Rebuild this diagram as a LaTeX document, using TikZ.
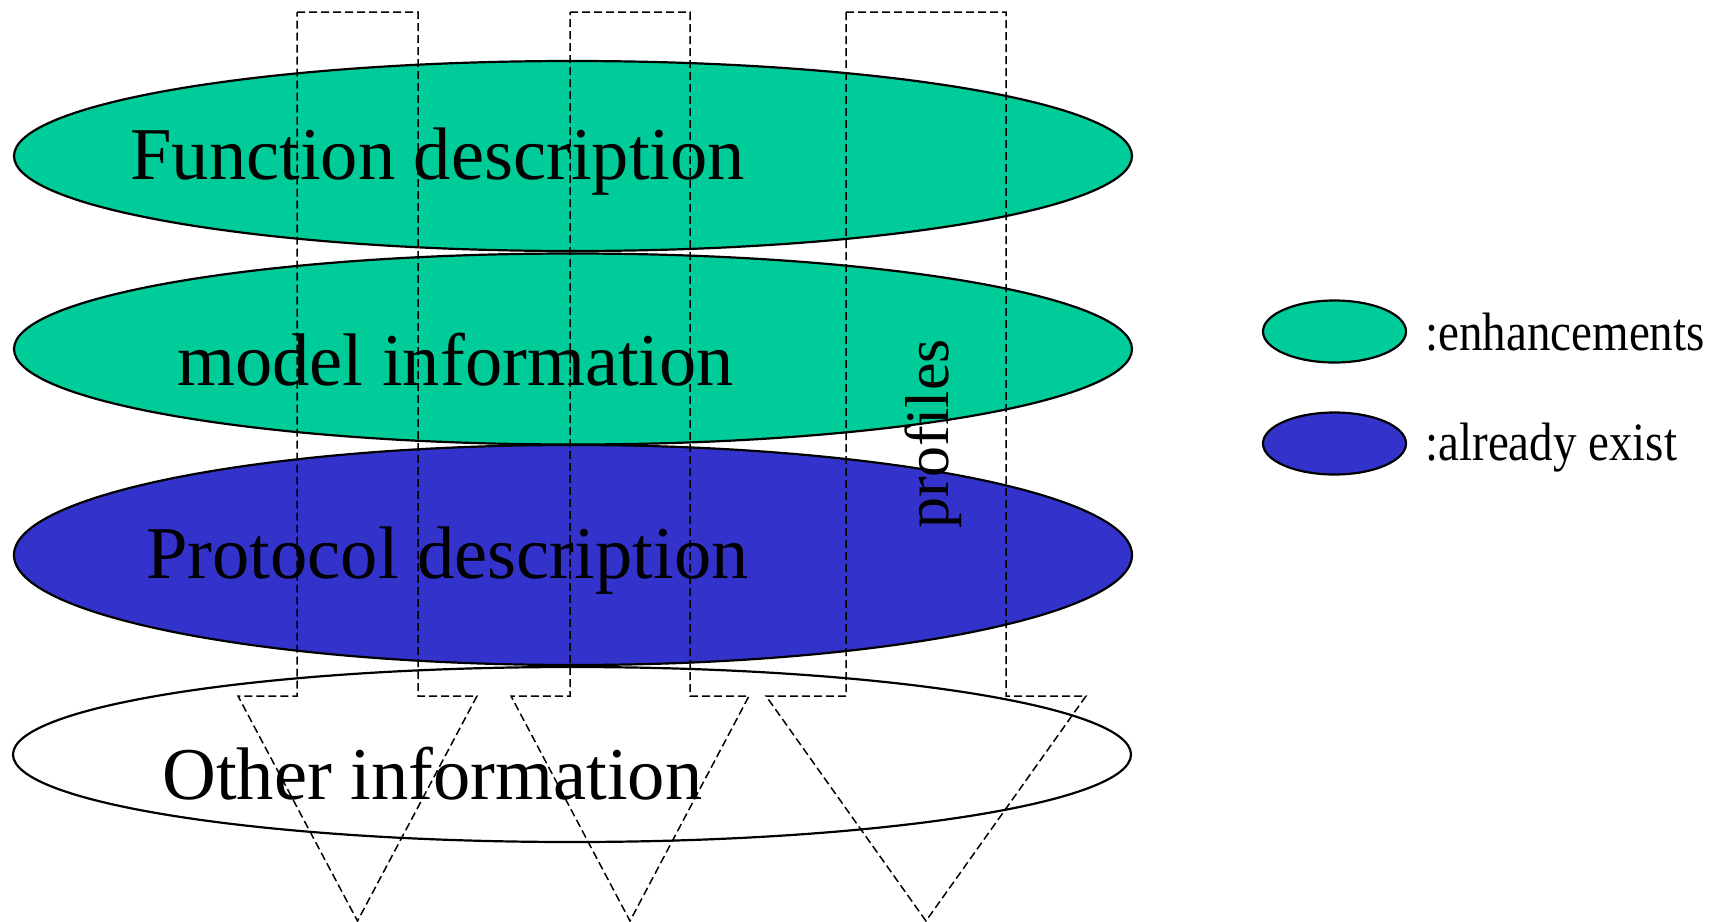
\documentclass[tikz,border=0pt]{standalone}
\usepackage{fontspec}
\setmainfont{Liberation Serif}
\usetikzlibrary{shapes.geometric}
\definecolor{enhgreen}{RGB}{0,204,153}
\definecolor{oldblue}{RGB}{51,51,204}

\begin{document}
\begin{tikzpicture}[x=0.5pt,y=-0.5pt,
    layer/.style={ellipse,draw,line width=1.1pt,inner sep=0pt,minimum width=559pt},
    key/.style={ellipse,draw,line width=1.1pt,inner sep=0pt,minimum width=71.5pt,minimum height=31pt},
    bigtext/.style={anchor=base west,inner sep=0pt,font=\fontsize{37.25pt}{40pt}\selectfont},
    keytext/.style={anchor=base west,inner sep=0pt,font=\fontsize{23.5pt}{26pt}\selectfont},
    profile/.style={dash pattern=on 4pt off 2pt,line width=0.75pt}]
    \useasboundingbox (0,0) rectangle (1721,922);
    % the four layers
    \node[layer,fill=enhgreen,minimum height=95pt] (fun) at (573,156) {};
    \node[layer,fill=enhgreen,minimum height=95.5pt] (model) at (573,349) {};
    \node[layer,fill=oldblue,minimum height=110pt] (proto) at (573,555) {};
    \node[layer,fill=white,minimum height=87.5pt] (other) at (572,754.5) {};
    \node[bigtext] (funtext) at (130,179) {Function description};
    \node[bigtext] (modeltext) at (177,385) {model information};
    \node[bigtext] (prototext) at (146,578) {Protocol description};
    \node[bigtext] (othertext) at (162,799) {Other information};
    % profiles
    \foreach \l/\r/\w in {297/418/59, 570/690/59, 846/1006/80}
        \draw[profile] (\l,12) -- (\r,12) -- (\r,696) -- (\r+\w,696)
            -- ({(\l+\r)/2},921) -- (\l-\w,696) -- (\l,696) -- cycle;
    \node[rotate=90,anchor=base,inner sep=0pt,font=\fontsize{31pt}{34pt}\selectfont]
        (profiles) at (948,434) {profiles};
    % legend
    \node[key,fill=enhgreen] (enh) at (1334.5,331.5) {};
    \node[key,fill=oldblue] (exist) at (1334.5,443.5) {};
    \node[keytext] (enhlabel) at (1425,350) {\scalebox{1}[1.15]{:enhancements}};
    \node[keytext] (existlabel) at (1425,460) {\scalebox{1}[1.15]{:already exist}};
\end{tikzpicture}
\end{document}
